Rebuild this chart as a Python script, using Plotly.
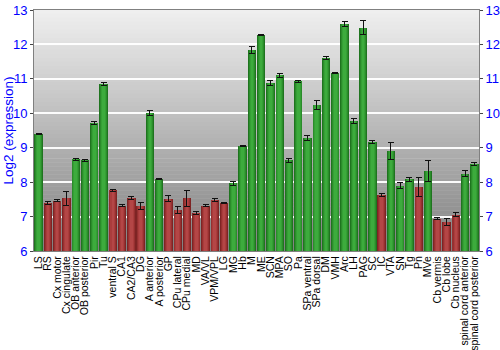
import plotly.graph_objects as go

regions = ["LS", "RS", "Cx motor", "Cx cingulate", "OB anterior", "OB posterior", "Pir", "Tu",
           "ventral S", "CA1", "CA2/CA3", "DG", "A anterior", "A posterior", "GP", "CPu lateral",
           "CPu medial", "MD", "VA/VL", "VPM/VPL", "LG", "MG", "Hb", "M", "ME", "SCN", "MPA", "SO",
           "Pa", "SPa ventral", "SPa dorsal", "DM", "VMH", "Arc", "LH", "PAG", "SC", "IC", "VTA",
           "SN", "Tg", "Pn", "MVe", "Cb vermis", "Cb lobe", "Cb nucleus", "spinal cord anterior",
           "spinal cord posterior"]
expression = [9.39, 7.40, 7.46, 7.53, 8.66, 8.63, 9.71, 10.84,
              7.76, 7.32, 7.53, 7.31, 10.01, 8.10, 7.52, 7.18,
              7.53, 7.10, 7.32, 7.49, 7.39, 7.97, 9.05, 11.83, 12.28, 10.87, 11.11, 8.64,
              10.93, 9.28, 10.24, 11.60, 11.17, 12.60, 9.77, 12.49, 9.17, 7.63, 8.90,
              7.90, 8.08, 7.85, 8.32, 6.94, 6.84, 7.06, 8.25, 8.53]
error = [0.02, 0.05, 0.03, 0.21, 0.04, 0.04, 0.04, 0.04,
         0.02, 0.04, 0.04, 0.10, 0.08, 0.02, 0.08, 0.10,
         0.24, 0.05, 0.04, 0.04, 0.02, 0.06, 0.02, 0.10, 0.02, 0.07, 0.06, 0.06,
         0.03, 0.07, 0.12, 0.04, 0.02, 0.08, 0.08, 0.20, 0.05, 0.04, 0.25,
         0.08, 0.05, 0.28, 0.30, 0.02, 0.10, 0.05, 0.10, 0.04]
# detection call: True = present (green), False = absent (red)
present = [True, False, False, False, True, True, True, True,
           False, False, False, False, True, True, False, False,
           False, False, False, False, False, True, True, True, True, True, True, True,
           True, True, True, True, True, True, True, True, True, False, True,
           True, True, False, True, False, False, False, True, True]

green_layers = ["#1f741f", "#2b8c2b", "#35a035", "#3dab3d"]
red_layers = ["#7e2424", "#963030", "#aa3c3c", "#b44646"]
widths = [0.9, 0.72, 0.5, 0.28]

fig = go.Figure()
x_idx = list(range(len(regions)))
for li, w in enumerate(widths):
    cols = [green_layers[li] if p else red_layers[li] for p in present]
    last = li == len(widths) - 1
    fig.add_trace(go.Bar(
        x=x_idx, y=[v - 6 for v in expression], base=6, width=w,
        marker=dict(color=cols, line=dict(width=0)),
        error_y=dict(type="data", array=error, color="#111111", thickness=1, width=3, visible=last),
        hoverinfo="skip", showlegend=False))
# invisible trace to keep the right axis
fig.add_trace(go.Scatter(x=[0], y=[6], yaxis="y2", mode="markers", marker=dict(opacity=0),
                         showlegend=False, hoverinfo="skip"))

# background gradient bands
shapes = []
n = 60
top = (240, 240, 240)
bot = (128, 128, 128)
for i in range(n):
    t = (i + 0.5) / n
    c = tuple(int(round(top[k] + (bot[k] - top[k]) * t)) for k in range(3))
    shapes.append(dict(type="rect", xref="paper", yref="paper", x0=0, x1=1,
                       y0=1 - (i + 1) / n, y1=1 - i / n + 0.002, layer="below",
                       line=dict(width=0), fillcolor="rgb(%d,%d,%d)" % c))

FONT = "Liberation Sans, Arial"
tick_font = dict(family=FONT, size=13, color="#0000ff")
fig.update_layout(
    width=500, height=350, margin=dict(l=34, r=21, t=10, b=99),
    paper_bgcolor="white", plot_bgcolor="rgba(0,0,0,0)",
    barmode="overlay", bargap=0, shapes=shapes,
    font=dict(family=FONT, size=10, color="black"),
    xaxis=dict(tickmode="array", tickvals=x_idx, ticktext=regions, tickangle=-90,
               range=[-0.5, len(regions) - 0.5], showgrid=False, ticks="",
               showline=True, linecolor="#808080", mirror=True,
               tickfont=dict(family=FONT, size=10.5, color="black"),
               automargin=False),
    yaxis=dict(range=[6, 13], dtick=1, showgrid=True, gridcolor="rgba(255,255,255,0.95)",
               gridwidth=2, zeroline=False, ticks="outside", ticklen=3, tickcolor="#444444",
               showline=True, linecolor="#808080", tickfont=tick_font,
               automargin=False),
    yaxis2=dict(range=[6, 13], dtick=1, overlaying="y", side="right", showgrid=False,
                zeroline=False, ticks="outside", ticklen=3, tickcolor="#444444",
                showline=True, linecolor="#808080", tickfont=tick_font, automargin=False),
    annotations=[dict(text="Log2 (expression)", textangle=-90, xref="paper", yref="paper",
                      x=(8 - 34) / 445, y=0.5, xanchor="center", yanchor="middle",
                      showarrow=False, font=dict(family=FONT, size=13.5, color="#0000ff"))],
)
fig.write_html("out.html")
